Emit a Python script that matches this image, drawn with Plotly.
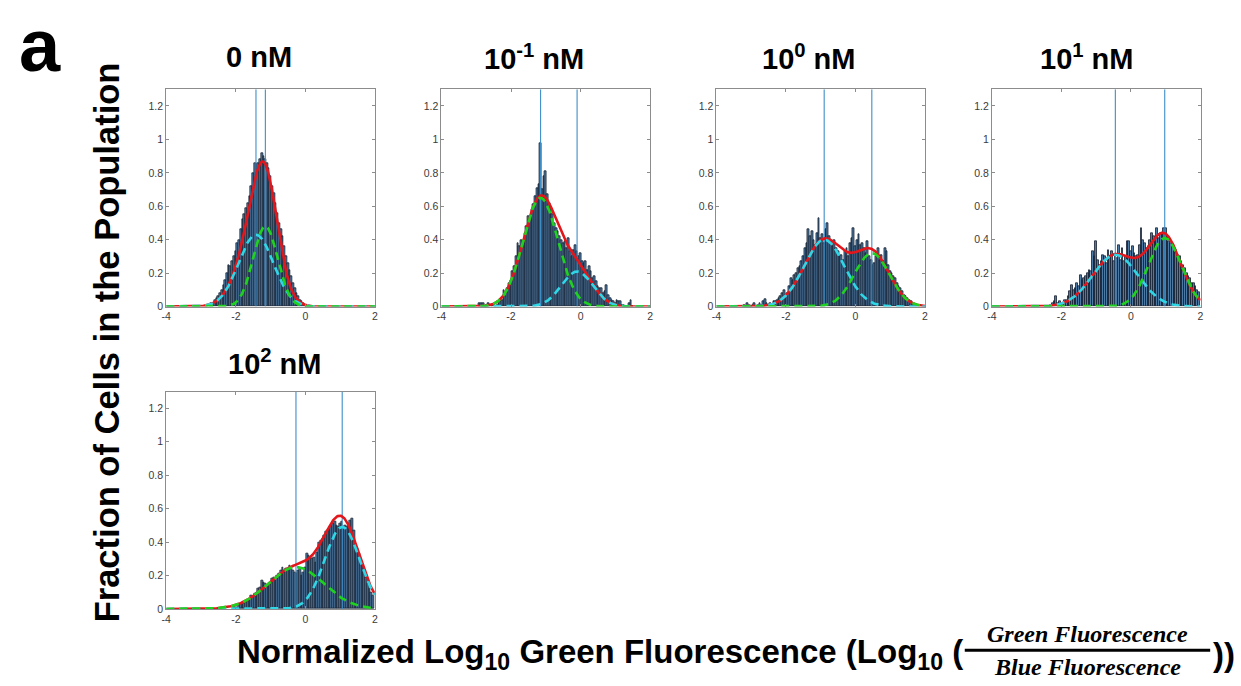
import numpy as np
import plotly.graph_objects as go

W, H = 1241, 686

# ---------------- data ----------------
panel_titles = ["0 nM", "10<sup>-1</sup> nM", "10<sup>0</sup> nM", "10<sup>1</sup> nM", "10<sup>2</sup> nM"]
x_ticks = [-4, -2, 0, 2]
y_ticks = [0, 0.2, 0.4, 0.6, 0.8, 1.0, 1.2]
y_ticktext = ["0", "0.2", "0.4", "0.6", "0.8", "1", "1.2"]

bin_width = 0.05
bin_start = [-2.75, -2.90, -3.20, -2.30, -2.05]

frac_0nM = [.01, .02, .02, .04, .05, .06, .08, .10, .13, .16, .20, .25, .24, .27, .30, .33, .38, .40,
            .46, .52, .55, .59, .62, .66, .72, .80, .86, .85, .86, .88, .92, .90, .88, .86, .83, .78,
            .72, .68, .62, .56, .50, .46, .42, .36, .30, .26, .22, .18, .14, .11, .08, .06, .04, .03,
            .02, .01, .01]
frac_01nM = [.02, .02, .02, 0, .01, .02, .01, 0, .01, 0, .01, .02, .03, .04, .10, .06, .11, .14, .16,
             .21, .24, .30, .38, .36, .40, .39, .44, .48, .54, .52, .58, .61, .66, .71, .73, .98, .70,
             .78, .81, .67, .62, .60, .55, .50, .47, .45, .42, .40, .38, .39, .35, .41, .33, .30, .34,
             .37, .33, .30, .32, .27, .26, .27, .22, .24, .21, .17, .18, .15, .12, .11, .11, .08, .09,
             .13, .07, .05, .04, .03, .02, .04, .03, .03, .01, .01, 0, 0, .02, .04, 0]
frac_1nM = [.01, 0, .02, .01, 0, .01, .02, 0, .01, .02, .01, .03, .045, .02, .01, .02, .01, .03, .03,
            .04, .05, .06, .08, .10, .07, .08, .12, .17, .16, .19, .20, .23, .24, .27, .30, .35, .38,
            .46, .42, .45, .40, .37, .44, .53, .41, .43, .38, .46, .50, .42, .39, .36, .40, .35, .33,
            .30, .31, .28, .33, .35, .30, .38, .41, .47, .36, .40, .43, .37, .38, .35, .32, .39, .30,
            .28, .25, .26, .30, .35, .28, .31, .27, .35, .33, .25, .21, .20, .18, .17, .14, .12, .11,
            .09, .07, .06, .05, .04, .03, .02, .01, .01, .01]
frac_10nM = [.01, .02, .03, .065, .02, .03, .02, .01, .04, .04, .06, .09, .125, .10, .11, .14, .12, .19,
             .16, .17, .18, .20, .22, .21, .33, .30, .39, .28, .25, .27, .31, .30, .26, .34, .30, .33,
             .27, .31, .29, .37, .28, .35, .27, .30, .39, .39, .33, .36, .32, .30, .31, .37, .47, .40,
             .38, .35, .36, .40, .44, .42, .39, .47, .41, .44, .43, .47, .47, .42, .39, .38, .36, .33,
             .34, .31, .30, .27, .25, .23, .20, .18, .17, .14, .14, .12, .10, .085]
frac_100nM = [.01, .015, .01, .02, .03, .025, .035, .045, .05, .06, .08, .07, .09, .10, .12, .13, .17,
              .16, .15, .14, .15, .16, .18, .19, .17, .20, .21, .23, .25, .22, .24, .23, .26, .24, .23,
              .22, .21, .23, .24, .20, .22, .25, .33, .32, .31, .30, .31, .28, .34, .40, .41, .42, .44,
              .46, .47, .49, .50, .51, .52, .50, .49, .51, .52, .48, .50, .49, .51, .53, .54, .47, .38,
              .36, .33, .29, .26, .22, .19, .15, .12, .10, .08]
fractions = [frac_0nM, frac_01nM, frac_1nM, frac_10nM, frac_100nM]

# Gaussian mixture fit components (mean, peak height, sd)
cyan_mu = [-1.42, -0.10, -0.90, -0.45, 1.06]
cyan_amp = [0.43, 0.21, 0.40, 0.31, 0.49]
cyan_sd = [0.50, 0.45, 0.58, 0.65, 0.50]
green_mu = [-1.15, -1.15, 0.47, 0.97, -0.27]
green_amp = [0.48, 0.65, 0.32, 0.41, 0.25]
green_sd = [0.35, 0.50, 0.50, 0.47, 0.80]

# ---------------- layout geometry (pixels) ----------------
col_left = [162.3, 439.3, 716.0, 993.3]
ax_w = 210.0
row_top = [90.0, 395.0]
ax_h = 219.3
panel_pos = [(0, 0), (0, 1), (0, 2), (0, 3), (1, 0)]
title_cx = [256, 532, 809, 1089, 271]
title_cy = [57, 57, 57, 57, 365]

BAR_FACE = "#4f7ea8"
BAR_EDGE = "#17202e"
VLINE = "#3d8ec9"
RED = "#e3161b"
CYAN = "#2fd6e6"
GREEN = "#1fd21f"

fig = go.Figure()
xg = np.linspace(-4, 2, 361)


def gauss(x, a, m, s):
    return a * np.exp(-(x - m) ** 2 / (2 * s ** 2))


annotations = []
for i in range(5):
    r, c = panel_pos[i]
    xa = "x" if i == 0 else f"x{i+1}"
    ya = "y" if i == 0 else f"y{i+1}"
    vals = fractions[i]
    centers = bin_start[i] + bin_width * np.arange(len(vals))
    fig.add_trace(go.Bar(x=centers, y=vals, width=bin_width,
                         marker=dict(color=BAR_FACE, line=dict(color=BAR_EDGE, width=0.8)),
                         xaxis=xa, yaxis=ya, showlegend=False, hoverinfo="skip"))
    for m in (cyan_mu[i], green_mu[i]):
        fig.add_trace(go.Scatter(x=[m, m], y=[0, 1.3], mode="lines",
                                 line=dict(color=VLINE, width=1.1),
                                 xaxis=xa, yaxis=ya, showlegend=False, hoverinfo="skip"))
    yc = gauss(xg, cyan_amp[i], cyan_mu[i], cyan_sd[i])
    ygr = gauss(xg, green_amp[i], green_mu[i], green_sd[i])
    fig.add_trace(go.Scatter(x=xg, y=yc + ygr, mode="lines", line=dict(color=RED, width=2.6),
                             xaxis=xa, yaxis=ya, showlegend=False, hoverinfo="skip"))
    fig.add_trace(go.Scatter(x=xg, y=yc, mode="lines",
                             line=dict(color=CYAN, width=2.6, dash="8px,5px"),
                             xaxis=xa, yaxis=ya, showlegend=False, hoverinfo="skip"))
    fig.add_trace(go.Scatter(x=xg, y=ygr, mode="lines",
                             line=dict(color=GREEN, width=2.6, dash="8px,5px"),
                             xaxis=xa, yaxis=ya, showlegend=False, hoverinfo="skip"))

    x0 = col_left[c] / W
    x1 = (col_left[c] + ax_w) / W
    y1 = 1 - row_top[r] / H
    y0 = 1 - (row_top[r] + ax_h) / H
    axis_common = dict(showline=True, linecolor="#8c8c8c", linewidth=1, mirror="ticks",
                       ticks="inside", ticklen=3, tickcolor="#8c8c8c", showgrid=False,
                       zeroline=False, tickfont=dict(family="Liberation Sans, Arial", size=10.5, color="#3a3a3a"),
                       fixedrange=True)
    xkey = "xaxis" if i == 0 else f"xaxis{i+1}"
    ykey = "yaxis" if i == 0 else f"yaxis{i+1}"
    fig.update_layout({
        xkey: dict(domain=[x0, x1], anchor=ya, range=[-4, 2], tickvals=x_ticks,
                   ticktext=[str(t) for t in x_ticks], **axis_common),
        ykey: dict(domain=[y0, y1], anchor=xa, range=[0, 1.3], tickvals=y_ticks,
                   ticktext=y_ticktext, **axis_common),
    })
    annotations.append(dict(text=f"<b>{panel_titles[i]}</b>", x=title_cx[i] / W, y=1 - title_cy[i] / H,
                            xref="paper", yref="paper", xanchor="center", yanchor="middle",
                            showarrow=False, font=dict(family="Liberation Sans, Arial", size=29, color="black")))

# panel letter
annotations.append(dict(text="<b>a</b>", x=35 / W, y=1 - 2 / H, xref="paper", yref="paper",
                        xanchor="center", yanchor="top", showarrow=False,
                        font=dict(family="Liberation Sans, Arial", size=74, color="black")))
# y title
annotations.append(dict(text="<b>Fraction of Cells in the Population</b>", x=103 / W, y=1 - 345 / H,
                        xref="paper", yref="paper", xanchor="center", yanchor="middle", textangle=-90,
                        showarrow=False, font=dict(family="Liberation Sans, Arial", size=34.5, color="black")))
# x title
frac_l, frac_r = 966, 1213
frac_cx = (frac_l + frac_r) / 2
annotations.append(dict(text="<b>Normalized Log<sub>10</sub> Green Fluorescence (Log<sub>10</sub> (</b>",
                        x=frac_l / W, y=1 - 660 / H, xref="paper", yref="paper",
                        xanchor="right", yanchor="middle", showarrow=False,
                        font=dict(family="Liberation Sans, Arial", size=33, color="black")))
annotations.append(dict(text="<b>))</b>", x=(frac_r + 1) / W, y=1 - 660 / H, xref="paper", yref="paper",
                        xanchor="left", yanchor="middle", showarrow=False,
                        font=dict(family="Liberation Sans, Arial", size=33, color="black")))
annotations.append(dict(text="<b><i>Green Fluorescence</i></b>", x=frac_cx / W, y=1 - 640 / H,
                        xref="paper", yref="paper", xanchor="center", yanchor="middle", showarrow=False,
                        font=dict(family="Liberation Serif, DejaVu Serif", size=24, color="black")))
annotations.append(dict(text="<b><i>Blue Fluorescence</i></b>", x=frac_cx / W, y=1 - 673 / H,
                        xref="paper", yref="paper", xanchor="center", yanchor="middle", showarrow=False,
                        font=dict(family="Liberation Serif, DejaVu Serif", size=24, color="black")))

fig.update_layout(
    width=W, height=H, margin=dict(l=0, r=0, t=0, b=0),
    paper_bgcolor="white", plot_bgcolor="white",
    bargap=0, showlegend=False, annotations=annotations,
    shapes=[dict(type="line", xref="paper", yref="paper", x0=frac_l / W, x1=frac_r / W,
                 y0=1 - 656 / H, y1=1 - 656 / H, line=dict(color="black", width=3))],
)

fig.write_html("out.html")
